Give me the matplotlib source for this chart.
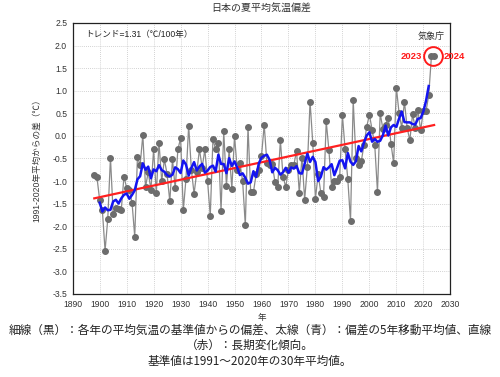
import numpy as np
import matplotlib
matplotlib.use("Agg")
import matplotlib.pyplot as plt

plt.rcParams['font.family'] = ['Liberation Sans', 'Noto Sans CJK JP', 'DejaVu Sans']

years = list(range(1898, 2025))
anomaly = [
    -0.86, -0.92, -1.42, -1.65, -2.54, -1.84, -0.48, -1.72, -1.60, -1.62,   # 1898-1907
    -1.65, -0.90, -1.15, -1.20, -1.48, -2.23, -0.47, -0.65, 0.02, -1.13,    # 1908-1917
    -0.80, -1.19, -0.30, -1.27, -0.15, -1.00, -0.52, -0.85, -1.45, -0.52,   # 1918-1927
    -1.16, -0.30, -0.05, -1.65, -0.95, 0.23, -0.75, -1.28, -0.80, -0.30,    # 1928-1937
    -0.70, -0.30, -1.00, -1.77, -0.07, -0.30, -0.15, -1.66, 0.10, -1.10,    # 1938-1947
    -0.30, -1.17, 0.00, -0.75, -0.60, -1.00, -1.98, 0.19, -1.25, -1.25,     # 1948-1957
    -0.85, -0.75, -0.45, 0.25, -0.60, -0.65, -0.63, -1.02, -1.13, -0.10,    # 1958-1967
    -0.91, -1.13, -0.75, -0.64, -0.64, -0.33, -1.26, -0.48, -1.41, -0.69,   # 1968-1977
    0.76, -0.15, -1.39, -0.85, -1.26, -1.35, 0.32, -0.32, -1.13, -1.00,     # 1978-1987
    -1.00, -0.90, 0.46, -0.30, -0.96, -1.89, 0.79, -0.50, -0.65, -0.56,     # 1988-1997
    -0.20, 0.20, 0.47, 0.14, -0.21, -1.24, 0.50, 0.16, 0.25, 0.40,          # 1998-2007
    -0.17, -0.60, 1.07, 0.51, 0.18, 0.76, 0.18, -0.10, 0.48, 0.18,          # 2008-2017
    0.57, 0.12, 0.55, 0.55, 0.90, 1.76, 1.76                                # 2018-2024
]

x_ticks = list(range(1890, 2031, 10))
y_ticks = [2.5, 2.0, 1.5, 1.0, 0.5, 0.0, -0.5, -1.0, -1.5, -2.0, -2.5, -3.0, -3.5]

title = "日本の夏平均気温偏差"
ylabel = "1991-2020年平均からの差（℃）"
xlabel = "年"
trend_text = "トレンド=1.31（℃/100年）"
agency = "気象庁"
caption = ["細線（黒）：各年の平均気温の基準値からの偏差、太線（青）：偏差の5年移動平均値、直線",
           "（赤）：長期変化傾向。",
           "基準値は1991〜2020年の30年平均値。"]

yr = np.array(years, dtype=float)
an = np.array(anomaly, dtype=float)
ma = np.convolve(an, np.ones(5) / 5, mode='valid')
ma_years = yr[2:-2]
coef = np.polyfit(yr, an, 1)
trend = np.polyval(coef, yr)

fig = plt.figure(figsize=(5.0, 3.77), dpi=100)
ax = fig.add_axes([0.1454, 0.2202, 0.7552, 0.7188])

ax.plot(yr, an, color='#8a8a8a', lw=0.9, zorder=2)
ax.plot(yr, an, 'o', color='#6c6c6c', ms=4.0, zorder=3)
ax.plot(yr, trend, color='#ff2020', lw=1.6, zorder=4)
ax.plot(ma_years, ma, color='#1414f0', lw=1.8, zorder=5)

ax.set_xlim(1890, 2030)
ax.set_ylim(-3.5, 2.5)
ax.set_xticks(x_ticks)
ax.set_yticks(y_ticks)
ax.set_yticklabels([f"{v:.1f}" for v in y_ticks])
ax.grid(True, color='#c4c4c4', linestyle=(0, (1, 1.5)), lw=0.6)
ax.set_axisbelow(True)
ax.tick_params(axis='both', which='both', length=0, labelsize=6.2, colors='#333333', pad=4)
for sp in ax.spines.values():
    sp.set_color('#222222')
    sp.set_linewidth(0.9)

ax.set_ylabel(ylabel, fontsize=6.2, color='#333333', labelpad=8)
ax.set_xlabel(xlabel, fontsize=6.2, color='#333333', labelpad=3)

fig.text(0.523, 0.978, title, ha='center', va='center', fontsize=7.2, color='#333333')
ax.text(0.033, 0.957, trend_text, transform=ax.transAxes, ha='left', va='center',
        fontsize=6.2, color='#222222')
ax.text(0.985, 0.952, agency, transform=ax.transAxes, ha='right', va='center',
        fontsize=6.5, color='#333333')

# highlight of the last two years
cx = (yr[-2] + yr[-1]) / 2
cy = an[-1]
ax.plot([cx], [cy], 'o', ms=13.5, mfc='none', mec='#ff1a1a', mew=1.4, zorder=6, clip_on=False)
ax.annotate(str(years[-2]), (cx, cy), xytext=(-8, 0), textcoords='offset points',
            ha='right', va='center', fontsize=6.8, fontweight='bold', color='#ff1a1a')
ax.annotate(str(years[-1]), (cx, cy), xytext=(8, 0), textcoords='offset points',
            ha='left', va='center', fontsize=6.8, fontweight='bold', color='#ff1a1a',
            annotation_clip=False)

cap_font = ['Noto Sans CJK JP', 'DejaVu Sans']
fig.text(0.5, 1 - 330 / 377, caption[0], ha='center', va='center', fontsize=8.4,
         color='#222222', family=cap_font)
fig.text(0.5, 1 - 345.5 / 377, caption[1], ha='center', va='center', fontsize=8.4,
         color='#222222', family=cap_font)
fig.text(0.5, 1 - 361 / 377, caption[2], ha='center', va='center', fontsize=8.4,
         color='#222222', family=cap_font)

fig.savefig("out.png", dpi=100)
